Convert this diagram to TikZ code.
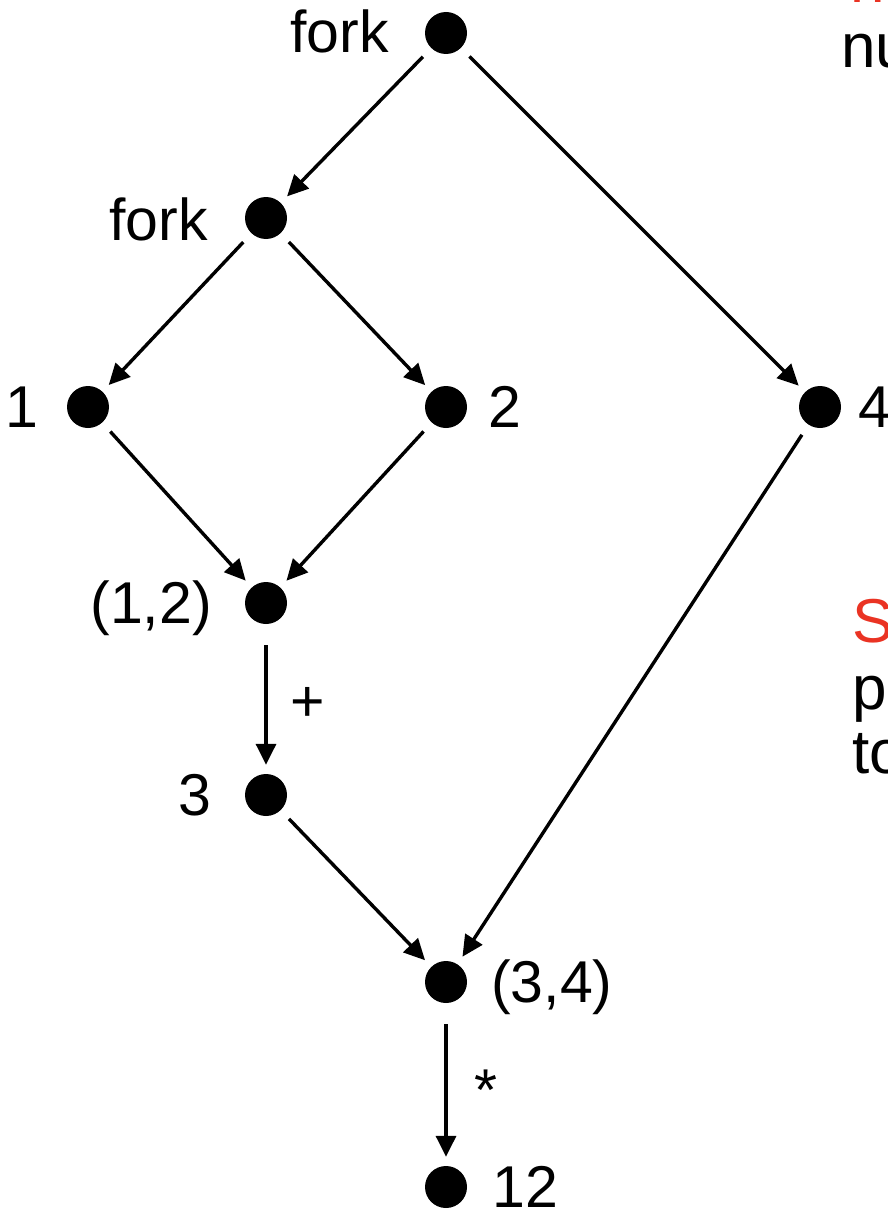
\documentclass[tikz,border=0pt]{standalone}
\usepackage{fontspec}
\setmainfont{Liberation Sans}
\usetikzlibrary{arrows.meta}
\definecolor{hred}{RGB}{234,51,35}
\begin{document}
\begin{tikzpicture}[x=1pt,y=-1pt,
  dot/.style={circle,fill=black,inner sep=0pt,minimum size=42pt},
  lbl/.style={inner sep=0pt,font=\fontsize{59}{64}\selectfont},
  side/.style={inner sep=0pt,font=\fontsize{62}{64}\selectfont},
  edge/.style={line width=3.4pt,-{Triangle[length=21pt,width=20pt]},shorten <=12pt,shorten >=9pt},
  vedge/.style={edge,shorten <=21pt}]
\useasboundingbox (0,0) rectangle (888,1212);
\clip (0,0) rectangle (888,1212);
% dots
\node[dot] (f1) at (446,33) {};
\node[dot] (f2) at (266,218) {};
\node[dot] (n1) at (88,407) {};
\node[dot] (n2) at (446,407) {};
\node[dot] (n4) at (820,407) {};
\node[dot] (p12) at (266,603) {};
\node[dot] (n3) at (266,795) {};
\node[dot] (p34) at (446,982) {};
\node[dot] (n12) at (446,1187) {};
% labels
\node[lbl,anchor=base east] (lf1) at (389,53) {fork};
\node[lbl,anchor=base east] (lf2) at (208,240) {fork};
\node[lbl,anchor=base east] (l1) at (39,427) {1};
\node[lbl,anchor=base west] (l2) at (488,427) {2};
\node[lbl,anchor=base west] (l4) at (858,427) {4};
\node[lbl,anchor=base east] (l12) at (212,623) {(1,2)};
\node[lbl,anchor=base east] (l3) at (212,815) {3};
\node[lbl,anchor=base west] (l34) at (491,1002) {(3,4)};
\node[lbl,anchor=base west] (l12b) at (492,1207) {12};
\node[lbl,anchor=base west] (lplus) at (290,721) {+};
\node[lbl,anchor=base west] (lstar) at (474,1110) {*};
% edges
\draw[edge] (f1) -- (f2);
\draw[edge] (f1) -- (n4);
\draw[edge] (f2) -- (n1);
\draw[edge] (f2) -- (n2);
\draw[edge] (n1) -- (p12);
\draw[edge] (n2) -- (p12);
\draw[vedge] (p12) -- (n3);
\draw[edge] (n3) -- (p34);
\draw[edge] (n4) -- (p34);
\draw[vedge] (p34) -- (n12);
% cropped side text
\node[side,anchor=base west,text=hred] (sred) at (850,3) {n};
\node[side,anchor=base west] (snu) at (841,68) {nu};
\node[side,anchor=base west,text=hred] (sS) at (852,642) {S};
\node[side,anchor=base west] (sp) at (852,709) {p};
\node[side,anchor=base west] (sto) at (852,773) {to};
\end{tikzpicture}
\end{document}
